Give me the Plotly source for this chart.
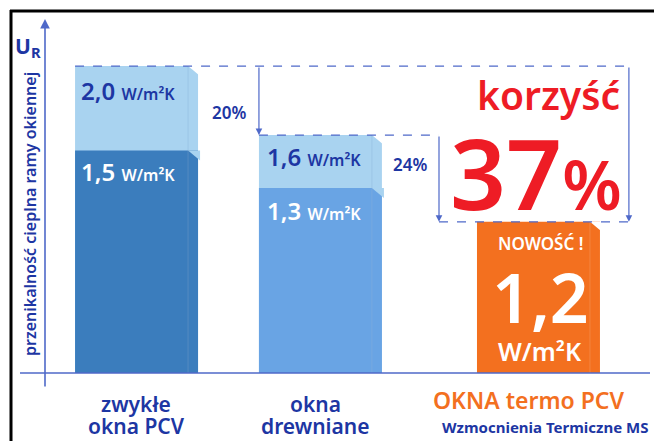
import plotly.graph_objects as go

# ---------------- data ----------------
categories = ["zwykłe<br>okna PCV", "okna<br>drewniane", "OKNA termo PCV"]
subtitle_3 = "Wzmocnienia Termiczne MS"
cat_pos = [0.0, 0.915, 2.0]              # category positions on the x axis
u_window = ["2,0", "1,6", "1,2"]         # window U value labels
u_frame = ["1,5", "1,3"]                 # frame U value labels
bar_upper = [2.0, 1.55, 0.985]           # drawn heights
bar_lower = [1.45, 1.205]
savings = ["20%", "24%"]
total_gain = "37"
y_title = "przenikalność cieplna ramy okiennej"

# ---------------- styles ----------------
W, H = 654, 441
L, R, T, B = 20, 4, 20, 53
XR = [-0.58, 2.555]
YR = [-0.098, 2.30]
BW = 0.612
DARKBLUE = "#1d36a3"
LINEBLUE = "#4f69c9"
LIGHT = "#a9d3f0"
DARKS = ["#3b7dbd", "#69a4e4"]
ORANGE = "#f3701f"
RED = "#ee1c25"
FONT = "Noto Sans"

PW, PH = W - L - R, H - T - B


def pxp(px):
    return (px - L) / PW


def pyp(py):
    return 1 - (py - T) / PH


fig = go.Figure()
fig.add_trace(go.Bar(x=cat_pos[:2], y=bar_upper[:2], width=BW,
                     marker=dict(color=LIGHT, line=dict(width=0)), hoverinfo="skip"))
fig.add_trace(go.Bar(x=cat_pos[:2], y=bar_lower, width=BW,
                     marker=dict(color=DARKS, line=dict(width=0)), hoverinfo="skip"))
fig.add_trace(go.Bar(x=[cat_pos[2]], y=[bar_upper[2]], width=BW,
                     marker=dict(color=ORANGE, line=dict(width=0)), hoverinfo="skip"))

shapes = []
dx = 10 / (PW / (XR[1] - XR[0]))
dy = 10 / (PH / (YR[1] - YR[0]))


def bevel(xc, top, behind, edge):
    xr = xc + BW / 2
    shapes.append(dict(type="line", xref="x", yref="y", x0=xr - dx, x1=xr - dx,
                       y0=0, y1=top, line=dict(color=edge, width=1), layer="above"))
    shapes.append(dict(type="path", xref="x", yref="y",
                       path=f"M {xr-dx} {top} L {xr+0.01} {top} L {xr+0.01} {top-dy} Z",
                       fillcolor=behind, line=dict(width=0), layer="above"))


for i in range(2):
    bevel(cat_pos[i], bar_upper[i], "white", "rgba(40,90,160,0.10)")
    bevel(cat_pos[i], bar_lower[i], LIGHT, "rgba(255,255,255,0.15)")
bevel(cat_pos[2], bar_upper[2], "white", "rgba(255,255,255,0.15)")

# x axis line
shapes.append(dict(type="line", xref="paper", yref="y", x0=0, x1=1, y0=0, y1=0,
                   line=dict(color=LINEBLUE, width=1.5)))
# black frame (left + top)
shapes.append(dict(type="line", xref="paper", yref="paper", x0=pxp(11), x1=pxp(11),
                   y0=pyp(10), y1=pyp(445), line=dict(color="black", width=3)))
shapes.append(dict(type="line", xref="paper", yref="paper", x0=pxp(10), x1=pxp(660),
                   y0=pyp(11), y1=pyp(11), line=dict(color="black", width=3)))

# dashed guide lines
x_a1 = cat_pos[1] - BW / 2
x_a2 = 1.505
x_a3 = 2.45
dash = dict(color=LINEBLUE, width=1.3, dash="dash")
shapes.append(dict(type="line", xref="x", yref="y", x0=cat_pos[0] - BW / 2, x1=x_a3,
                   y0=bar_upper[0], y1=bar_upper[0], line=dash))
shapes.append(dict(type="line", xref="x", yref="y", x0=x_a1, x1=x_a2,
                   y0=bar_upper[1], y1=bar_upper[1], line=dash))
shapes.append(dict(type="line", xref="x", yref="y", x0=x_a2, x1=x_a3,
                   y0=bar_upper[2], y1=bar_upper[2], line=dash))

ann = []


def arrow(x, y0, y1):
    ann.append(dict(x=x, y=y1, ax=x, ay=y0, xref="x", yref="y", axref="x", ayref="y",
                    text="", showarrow=True, arrowhead=2, arrowsize=1.1, arrowwidth=1.2,
                    arrowcolor=LINEBLUE))


arrow(x_a1, bar_upper[0], bar_upper[1])
arrow(x_a2, bar_upper[1], bar_upper[2])
arrow(x_a3, bar_upper[0], bar_upper[2])
# y axis arrow
ann.append(dict(x=pxp(45), y=pyp(19), ax=0, ay=369, xref="paper", yref="paper",
                axref="pixel", ayref="pixel", text="", showarrow=True, arrowhead=2,
                arrowsize=1.2, arrowwidth=1.6, arrowcolor=LINEBLUE))


def txt(text, px, py, size, color, xanchor="center", weight=600, angle=0, yanchor="middle"):
    ann.append(dict(text=text, x=pxp(px), y=pyp(py), xref="paper", yref="paper",
                    showarrow=False, xanchor=xanchor, yanchor=yanchor, textangle=angle,
                    font=dict(family=FONT, size=size, color=color, weight=weight)))


unit = "<span style='font-size:16px'>W/m²K</span>"
txt(f"{u_window[0]} {unit}", 79, 90, 24, DARKBLUE, "left")
txt(f"{u_frame[0]} {unit}", 79, 171, 24, "white", "left")
txt(f"{u_window[1]} {unit}", 265, 157, 24, DARKBLUE, "left")
txt(f"{u_frame[1]} {unit}", 265, 210, 24, "white", "left")
txt(savings[0], 229, 112, 17, DARKBLUE)
txt(savings[1], 410, 164, 17, DARKBLUE)
txt("korzyść", 548, 95, 39, RED)
txt(f"{total_gain}<span style='font-size:68px'>%</span>", 536, 172, 98, RED)
txt("NOWOŚĆ !", 540, 243, 17, "white")
txt(u_window[2], 540, 296, 68, "white")
txt("W/m²K", 540, 351, 25, "white")
for (cx, lines) in [(136, categories[0]), (315, categories[1])]:
    first, second = lines.split("<br>")
    txt(first, cx, 404, 21, DARKBLUE)
    txt(second, cx, 426, 21, DARKBLUE)
txt(categories[2], 529, 400, 23, ORANGE)
txt(subtitle_3, 545, 427, 15, DARKBLUE, weight=700)
txt(y_title, 30, 214, 16, DARKBLUE, angle=-90)
txt("U<sub>R</sub>", 28, 47, 21, DARKBLUE, weight=700)

fig.update_layout(
    width=W, height=H, margin=dict(l=L, r=R, t=T, b=B),
    barmode="overlay", showlegend=False,
    plot_bgcolor="white", paper_bgcolor="white",
    xaxis=dict(range=XR, visible=False, fixedrange=True),
    yaxis=dict(range=YR, visible=False, fixedrange=True),
    shapes=shapes, annotations=ann,
)
fig.write_html("out.html", config={"displayModeBar": False})
